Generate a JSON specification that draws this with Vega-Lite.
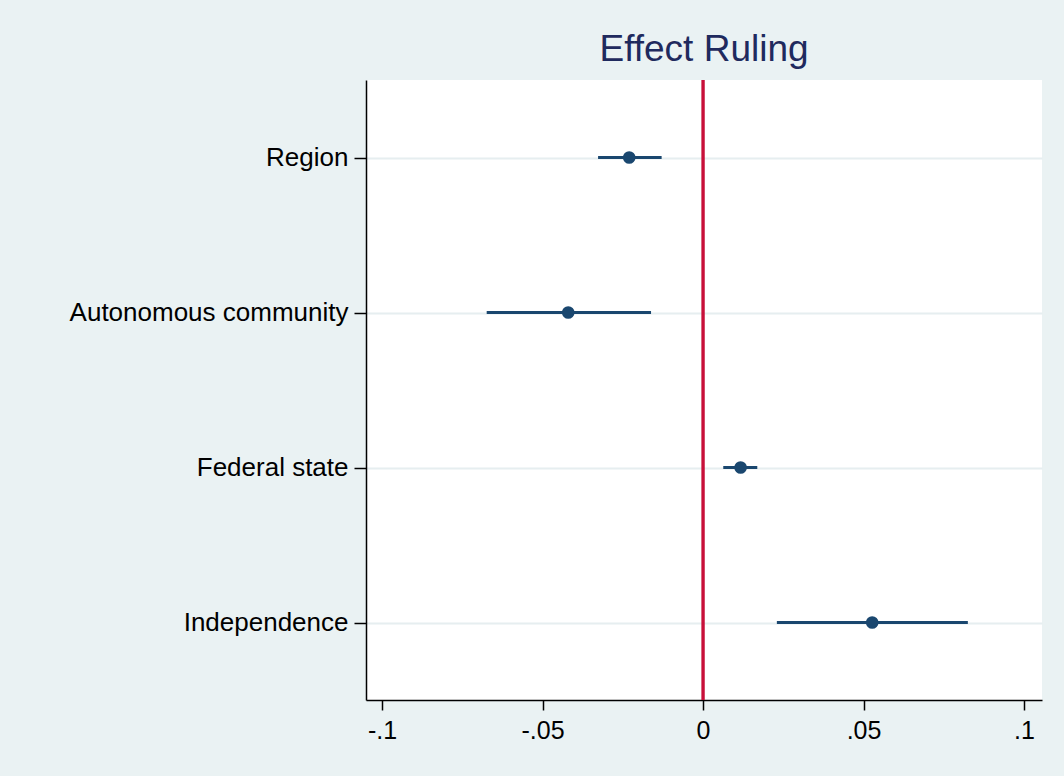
{
  "$schema": "https://vega.github.io/schema/vega-lite/v6.json",
  "width": 676,
  "height": 620,
  "autosize": {"type": "none"},
  "padding": {"left": 366, "top": 80, "right": 22, "bottom": 76},
  "background": "#eaf2f3",
  "config": {
    "view": {"fill": "white", "stroke": null},
    "axis": {"labelFont": "Liberation Sans", "labelColor": "black", "domainColor": "black", "domainWidth": 1.5, "tickColor": "black", "tickWidth": 1.5}
  },
  "title": {"text": "Effect Ruling", "font": "Liberation Sans", "fontSize": 37, "fontWeight": "normal", "color": "#1f2a5e", "anchor": "middle", "baseline": "bottom", "offset": 8, "dy": 35},
  "data": {"values": [
    {"cat": "Region", "est": -0.0230, "lo": -0.0327, "hi": -0.0129},
    {"cat": "Autonomous community", "est": -0.0420, "lo": -0.0674, "hi": -0.0162},
    {"cat": "Federal state", "est": 0.0117, "lo": 0.0063, "hi": 0.0169},
    {"cat": "Independence", "est": 0.0527, "lo": 0.0230, "hi": 0.0825}
  ]},
  "encoding": {
    "y": {"field": "cat", "type": "nominal", "sort": null,
      "scale": {"type": "point", "padding": 0.5},
      "axis": {"title": null, "grid": true, "gridColor": "#e6eef0", "gridWidth": 2, "tickSize": 12, "labelPadding": 6, "labelFontSize": 26, "labelLimit": 400, "labelOverlap": false}}
  },
  "layer": [
    {
      "mark": {"type": "rule", "color": "#c8103a", "strokeWidth": 2.5},
      "encoding": {
        "x": {"datum": 0, "type": "quantitative"},
        "y": null
      }
    },
    {
      "mark": {"type": "rule", "color": "#1a476f", "strokeWidth": 3},
      "encoding": {
        "x": {"field": "lo", "type": "quantitative",
          "scale": {"domain": [-0.105, 0.1056], "nice": false, "zero": false},
          "axis": {"title": null, "values": [-0.1, -0.05, 0, 0.05, 0.1], "tickSize": 10, "labelPadding": 8, "labelFontSize": 25, "labelFlush": false, "labelOverlap": false, "grid": false,
            "labelExpr": "(datum.value < 0 ? '-' : '') + replace(format(abs(datum.value), '.2~f'), '0.', '.')"}},
        "x2": {"field": "hi"}
      }
    },
    {
      "mark": {"type": "point", "shape": "circle", "filled": true, "color": "#1a476f", "size": 160, "opacity": 1},
      "encoding": {
        "x": {"field": "est", "type": "quantitative"}
      }
    }
  ]
}
